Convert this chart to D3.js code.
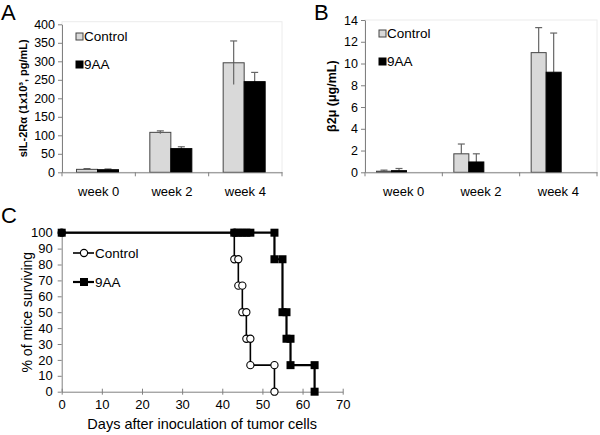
<!DOCTYPE html>
<html>
<head>
<meta charset="utf-8">
<script src="https://cdn.jsdelivr.net/npm/d3@7"></script>
<style>
  body { margin: 0; background: #fff; }
  svg { font-family: "Liberation Sans", Arial, sans-serif; }
  .axis path, .axis line { stroke: #808080; }
  .axis text { fill: #000; }
</style>
</head>
<body>
<div id="chart"></div>
<script>
// panel A / B data
const weeks = ['week 0', 'week 2', 'week 4'];
const groups = ['Control', '9AA'];
const il2Control = [8, 108, 296];
const il2ControlErr = [2, 4, 59];
const il2Treated = [7, 64, 245];
const il2TreatedErr = [2, 5, 25];
const b2mControl = [0.1, 1.7, 11.0];
const b2mControlErr = [0.1, 0.9, 2.3];
const b2mTreated = [0.15, 0.95, 9.2];
const b2mTreatedErr = [0.2, 0.75, 3.6];
const il2Ticks = [0, 50, 100, 150, 200, 250, 300, 350, 400];
const b2mTicks = [0, 2, 4, 6, 8, 10, 12, 14];

// panel C survival curves
const ctrlDays = [0, 43, 43, 44, 44, 45, 45, 46, 46, 47, 47, 53, 53];
const ctrlPct = [100, 100, 83.3, 83.3, 66.7, 66.7, 50, 50, 33.3, 33.3, 16.7, 16.7, 0];
const aaDays = [0, 43, 44, 45, 46, 47, 53, 53, 55, 55, 56, 56, 57, 57, 63, 63];
const aaPct = [100, 100, 100, 100, 100, 100, 100, 83.3, 83.3, 50, 50, 33.3, 33.3, 16.7, 16.7, 0];
const dayTicks = [0, 10, 20, 30, 40, 50, 60, 70];
const pctTicks = [0, 10, 20, 30, 40, 50, 60, 70, 80, 90, 100];

const colors = {Control: '#d9d9d9', '9AA': '#000'};

const svg = d3.select('#chart').append('svg')
    .attr('width', 600)
    .attr('height', 435);

function barPanel(opt) {
    const g = svg.append('g');
    const x = d3.scaleBand().domain(weeks).range([opt.x0, opt.x1]);
    const y = d3.scaleLinear().domain([0, opt.max]).range([opt.y0, opt.y1]);
    const x1 = d3.scaleBand().domain(groups).range(opt.sub);

    // faint plot frame
    g.append('rect')
        .attr('x', opt.x0).attr('y', opt.frameTop)
        .attr('width', opt.x1 - opt.x0).attr('height', opt.y0 - opt.frameTop)
        .attr('fill', 'none').attr('stroke', '#ececec');

    const rows = weeks.map((w, i) => ({
        week: w,
        vals: [
            {g: 'Control', v: opt.ctrl[i], e: opt.ctrlErr[i]},
            {g: '9AA', v: opt.trt[i], e: opt.trtErr[i]}
        ]
    }));

    const wk = g.selectAll('.wk').data(rows).enter().append('g')
        .attr('transform', d => `translate(${x(d.week)},0)`);

    // error bars behind the bars
    wk.selectAll('.err').data(d => d.vals).enter().append('g')
        .each(function(d) {
            const cx = x1(d.g) + x1.bandwidth() / 2;
            const lo = opt.both ? d.v - d.e : d.v;
            const s = d3.select(this);
            s.append('line')
                .attr('x1', cx).attr('x2', cx)
                .attr('y1', y(lo)).attr('y2', y(d.v + d.e))
                .attr('stroke', '#666').attr('stroke-width', 1.2);
            s.append('line')
                .attr('x1', cx - 3.5).attr('x2', cx + 3.5)
                .attr('y1', y(d.v + d.e)).attr('y2', y(d.v + d.e))
                .attr('stroke', '#666').attr('stroke-width', 1.2);
        });

    wk.selectAll('rect').data(d => d.vals).enter().append('rect')
        .attr('x', d => x1(d.g))
        .attr('y', d => y(d.v))
        .attr('width', x1.bandwidth())
        .attr('height', d => opt.y0 - y(d.v))
        .attr('fill', d => colors[d.g])
        .attr('stroke', d => d.g == 'Control' ? '#444' : '#000')
        .attr('stroke-width', 1);

    // redraw lower half of control error when it sits over the grey bar
    if (opt.both) {
        wk.selectAll('.lo').data(d => d.vals.filter(v => v.g == 'Control')).enter().append('line')
            .attr('x1', d => x1(d.g) + x1.bandwidth() / 2)
            .attr('x2', d => x1(d.g) + x1.bandwidth() / 2)
            .attr('y1', d => y(d.v))
            .attr('y2', d => y(d.v - d.e))
            .attr('stroke', '#666').attr('stroke-width', 1.2);
    }

    const yAxis = d3.axisLeft(y).tickValues(opt.ticks).tickSize(4).tickPadding(3).tickSizeOuter(0);
    g.append('g').attr('class', 'axis')
        .attr('transform', `translate(${opt.x0},0)`)
        .call(yAxis)
        .call(s => s.selectAll('text').style('font-size', '12.5px'));

    const xAxis = d3.axisBottom(x).tickSize(0).tickPadding(14).tickSizeOuter(0);
    const xa = g.append('g').attr('class', 'axis')
        .attr('transform', `translate(0,${opt.y0})`)
        .call(xAxis);
    xa.selectAll('text').style('font-size', '13px');
    // tick marks between categories
    xa.selectAll('.sep').data(weeks.concat(['end'])).enter().append('line')
        .attr('x1', (d, i) => opt.x0 + i * x.step())
        .attr('x2', (d, i) => opt.x0 + i * x.step())
        .attr('y1', 0).attr('y2', 4)
        .attr('stroke', '#808080');

    g.append('text')
        .attr('transform', `translate(${opt.labelX},${(opt.y0 + opt.y1) / 2}) rotate(-90)`)
        .attr('text-anchor', 'middle')
        .style('font-size', opt.labelSize)
        .style('font-weight', 'bold')
        .text(opt.label);

    // legend
    const lg = g.selectAll('.lg').data(groups).enter().append('g')
        .attr('transform', (d, i) => `translate(${opt.legX},${opt.legY + i * 28})`);
    lg.append('rect')
        .attr('x', 0).attr('y', -8).attr('width', 7).attr('height', 7)
        .attr('fill', d => colors[d])
        .attr('stroke', d => d == 'Control' ? '#444' : '#000');
    lg.append('text')
        .attr('x', 8).attr('y', 0)
        .style('font-size', '13.5px')
        .text(d => d);

    svg.append('text')
        .attr('x', opt.tagX).attr('y', 20)
        .style('font-size', '22px')
        .text(opt.tag);
}

barPanel({
    x0: 62, x1: 282, y0: 172.3, y1: 24.3, frameTop: 21.7, max: 400,
    sub: [14.5, 56.5], ctrl: il2Control, ctrlErr: il2ControlErr,
    trt: il2Treated, trtErr: il2TreatedErr, both: true, ticks: il2Ticks,
    label: 'sIL-2Rα (1x10³, pg/mL)', labelX: 27, labelSize: '11px',
    legX: 76, legY: 41, tag: 'A', tagX: 1
});

barPanel({
    x0: 365, x1: 597, y0: 172.3, y1: 20, frameTop: 20, max: 14,
    sub: [11.5, 41.5], ctrl: b2mControl, ctrlErr: b2mControlErr,
    trt: b2mTreated, trtErr: b2mTreatedErr, both: false, ticks: b2mTicks,
    label: 'β2μ (μg/mL)', labelX: 336, labelSize: '12.5px',
    legX: 379, legY: 38, tag: 'B', tagX: 314
});

// ---- panel C ----
const gc = svg.append('g');
const xs = d3.scaleLinear().domain([0, 70]).range([61.7, 342.7]);
const ys = d3.scaleLinear().domain([0, 100]).range([391.7, 232.7]);

const xAxC = gc.append('g').attr('class', 'axis')
    .attr('transform', `translate(0,${ys(0)})`)
    .call(d3.axisBottom(xs).tickValues(dayTicks).tickSize(3).tickPadding(5).tickSizeOuter(0));
xAxC.selectAll('text').style('font-size', '13px');
xAxC.selectAll('.tick line').attr('y1', -3);

gc.append('g').attr('class', 'axis')
    .attr('transform', `translate(${xs(0)},0)`)
    .call(d3.axisLeft(ys).tickValues(pctTicks).tickSize(4).tickPadding(5).tickSizeOuter(0))
    .call(s => s.selectAll('text').style('font-size', '13px'));

gc.append('text')
    .attr('x', (xs(0) + xs(70)) / 2).attr('y', 429)
    .attr('text-anchor', 'middle')
    .style('font-size', '14.5px')
    .text('Days after inoculation of tumor cells');

gc.append('text')
    .attr('transform', `translate(32,${(ys(0) + ys(100)) / 2}) rotate(-90)`)
    .attr('text-anchor', 'middle')
    .style('font-size', '14px')
    .text('% of mice surviving');

const line = d3.line().x(d => xs(d[0])).y(d => ys(d[1]));
const ctrlPts = ctrlDays.map((d, i) => [d, ctrlPct[i]]);
const aaPts = aaDays.map((d, i) => [d, aaPct[i]]);

gc.append('path').datum(ctrlPts).attr('d', line)
    .attr('fill', 'none').attr('stroke', '#000').attr('stroke-width', 1.6);
gc.selectAll('.cpt').data(ctrlPts).enter().append('circle')
    .attr('cx', d => xs(d[0])).attr('cy', d => ys(d[1])).attr('r', 3.6)
    .attr('fill', '#fff').attr('stroke', '#000').attr('stroke-width', 1.1);

gc.append('path').datum(aaPts).attr('d', line)
    .attr('fill', 'none').attr('stroke', '#000').attr('stroke-width', 2.2);
gc.selectAll('.apt').data(aaPts).enter().append('rect')
    .attr('x', d => xs(d[0]) - 4).attr('y', d => ys(d[1]) - 4)
    .attr('width', 8).attr('height', 8).attr('fill', '#000');

// legend C
const lc = gc.selectAll('.lc').data(groups).enter().append('g')
    .attr('transform', (d, i) => `translate(73,${253 + i * 29})`);
lc.append('line').attr('x1', 0).attr('x2', 21).attr('y1', 0).attr('y2', 0)
    .attr('stroke', '#000').attr('stroke-width', (d, i) => i ? 2.2 : 1.6);
lc.each(function(d) {
    const s = d3.select(this);
    if (d == 'Control') {
        s.append('circle').attr('cx', 11).attr('cy', 0).attr('r', 3.6)
            .attr('fill', '#fff').attr('stroke', '#000').attr('stroke-width', 1.1);
    } else {
        s.append('rect').attr('x', 7).attr('y', -4).attr('width', 8).attr('height', 8).attr('fill', '#000');
    }
});
lc.append('text').attr('x', 22).attr('y', 5)
    .style('font-size', '13.5px')
    .text(d => d);

svg.append('text')
    .attr('x', 1).attr('y', 223)
    .style('font-size', '22px')
    .text('C');
</script>
</body>
</html>
